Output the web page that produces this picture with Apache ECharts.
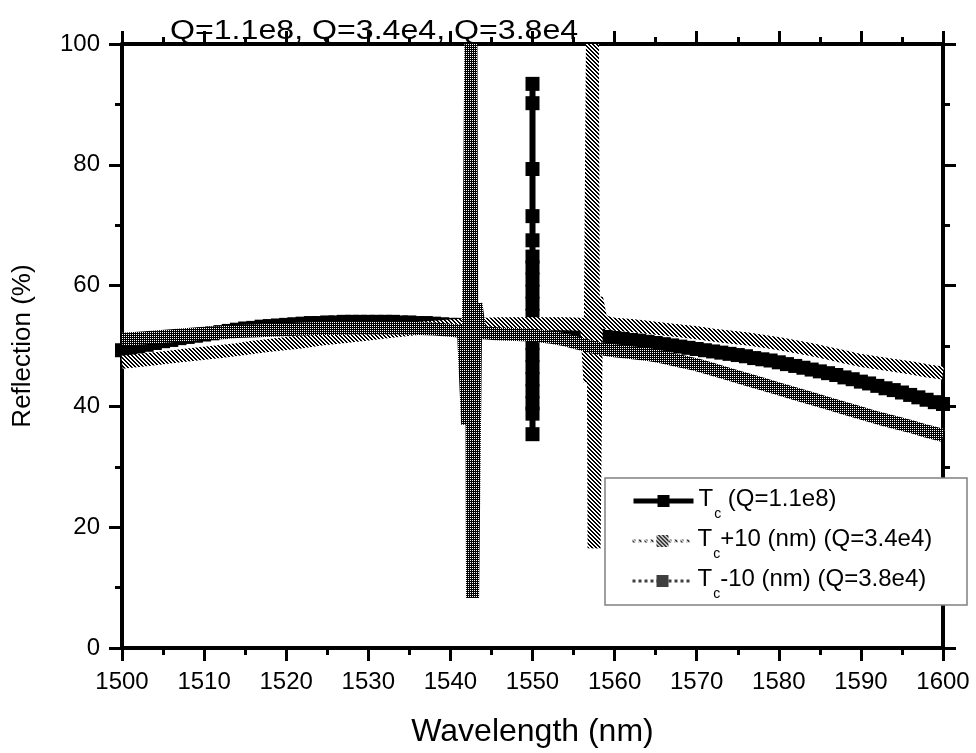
<!DOCTYPE html>
<html>
<head>
<meta charset="utf-8">
<script src="https://cdn.jsdelivr.net/npm/echarts@6/dist/echarts.min.js"></script>
<style>
html,body{margin:0;padding:0;background:#fff;}
#chart{width:976px;height:753px;}
</style>
</head>
<body>
<div id="chart"></div>
<script>
// ---------- DATA ----------
var titleText = 'Q=1.1e8, Q=3.4e4, Q=3.8e4';
var xAxisName = 'Wavelength (nm)';
var yAxisName = 'Reflection (%)';
var seriesNames = ['Tc (Q=1.1e8)', 'Tc+10 (nm) (Q=3.4e4)', 'Tc-10 (nm) (Q=3.8e4)'];
var legendRest = [' (Q=1.1e8)', '+10 (nm) (Q=3.4e4)', '-10 (nm) (Q=3.8e4)'];

// Tc : 1 nm sampling, 1500..1549
var tcLeftStart = 1500;
var tcLeftY = [49.3,49.6,49.9,50.2,50.5,50.8,51.0,51.3,51.5,51.7,
  51.9,52.1,52.3,52.5,52.7,52.9,53.0,53.2,53.3,53.4,
  53.5,53.6,53.7,53.8,53.8,53.9,53.9,54.0,54.0,54.0,
  54.0,54.0,54.0,54.0,53.9,53.9,53.8,53.8,53.7,53.6,
  53.5,53.5,53.4,53.3,53.2,53.1,53.0,52.9,52.9,52.8];
// Tc resonance at 1550 nm
var tcResX = 1550;
var tcResY = [52.7,55,57,59,61,63,64.8,67.5,71.5,79.3,90.2,93.4,35.4,38.8,40.5,42.5,44.5,46.5,48.5,50.5,52.6];
// Tc : 1551..1600
var tcRightStart = 1551;
var tcRightY = [52.6,52.5,52.4,52.2,52.1,52.0,51.8,51.7,51.5,51.4,
  51.2,51.0,50.9,50.7,50.5,50.3,50.1,49.9,49.7,49.5,
  49.3,49.1,48.9,48.7,48.5,48.3,48.0,47.8,47.6,47.3,
  47.0,46.7,46.4,46.1,45.8,45.5,45.2,44.8,44.5,44.1,
  43.8,43.4,43.0,42.7,42.3,41.9,41.5,41.1,40.7,40.4];

// Tc+10
var plusX = [1500,1502,1504,1506,1508,1510,1512,1514,1516,1518,1520,1522,1524,1526,1528,1530,1532,1534,1536,1538,1540,1542,1544,1546,1548,1550,1552,1554,1556,
  1556.6,1557.0,1557.3,1557.5,1557.8,1558.3,1559,
  1560,1562,1564,1566,1568,1570,1572,1574,1576,1578,1580,1582,1584,1586,1588,1590,1592,1594,1596,1598,1600];
var plusY = [47.3,47.6,47.9,48.2,48.5,48.8,49.1,49.4,49.8,50.1,50.4,50.7,51.1,51.4,51.7,52.0,52.3,52.6,52.9,53.1,53.3,53.5,53.6,53.7,53.7,53.7,53.7,53.7,53.6,
  53.3,44,100,16.5,58,54.5,53.9,
  53.6,53.4,53.1,52.8,52.5,52.2,51.8,51.5,51.2,50.8,50.4,49.9,49.4,48.8,48.2,47.6,47.2,46.8,46.4,45.9,45.5];

// Tc-10
var minusX = [1500,1502,1504,1506,1508,1510,1512,1514,1516,1518,1520,1522,1524,1526,1528,1530,1532,1534,1536,1538,1540,
  1541.6,1542.1,1542.5,1542.7,1543.1,1543.6,
  1544,1546,1548,1550,1552,1554,1556,1558,1560,1562,1564,1566,1568,1570,1572,1574,1576,1578,1580,1582,1584,1586,1588,1590,1592,1594,1596,1598,1600];
var minusY = [51.1,51.3,51.5,51.7,51.9,52.1,52.2,52.4,52.5,52.6,52.7,52.8,52.9,52.9,53.0,53.0,53.0,53.0,52.9,52.8,52.6,
  52.4,37,100,8.3,57,52.4,
  52.2,52.0,51.9,51.8,51.5,51.0,50.3,49.6,49.2,48.9,48.6,48.1,47.5,46.9,46.1,45.3,44.5,43.7,42.9,42.1,41.3,40.5,39.7,38.9,38.1,37.4,36.7,35.9,35.2];

var xMin = 1500, xMax = 1600, xInterval = 10;
var yMin = 0, yMax = 100, yInterval = 20;

// ---------- BUILD ----------
function pairsFromStart(start, ys) { return ys.map(function (v, i) { return [start + i, v]; }); }
function pairs(xs, ys) { return xs.map(function (x, i) { return [x, ys[i]]; }); }
var tcData = pairsFromStart(tcLeftStart, tcLeftY)
  .concat(tcResY.map(function (v) { return [tcResX, v]; }))
  .concat(pairsFromStart(tcRightStart, tcRightY));
var plusData = pairs(plusX, plusY);
var minusData = pairs(minusX, minusY);

function makePattern(kind) {
  var c = document.createElement('canvas');
  c.width = 4; c.height = 4;
  var ctx = c.getContext('2d');
  ctx.fillStyle = '#fff'; ctx.fillRect(0, 0, 4, 4);
  ctx.fillStyle = '#000';
  for (var y = 0; y < 4; y++) for (var x = 0; x < 4; x++) {
    var black;
    if (kind === 'hatch') black = ((x - y + 8) % 4) < 2;
    else black = !(x % 2 === 0 && y % 2 === 0);
    if (black) ctx.fillRect(x, y, 1, 1);
  }
  return { image: c, repeat: 'repeat' };
}
var hatch = makePattern('hatch');
var check = makePattern('check');

var FONT = '"Liberation Sans", Arial, Helvetica, sans-serif';
var axisCommon = {
  axisLine: { show: true, onZero: false, lineStyle: { color: '#000', width: 4 } },
  axisTick: { show: true, inside: false, length: 13, lineStyle: { color: '#000', width: 3 } },
  minorTick: { show: true, splitNumber: 2, length: 7, lineStyle: { color: '#000', width: 3 } },
  splitLine: { show: false },
  minorSplitLine: { show: false }
};
function ax(extra) { return Object.assign({}, JSON.parse(JSON.stringify(axisCommon)), extra); }
function plain(v) { return String(v); }

var richStyle = {
  t: { fontSize: 24, lineHeight: 28, fontFamily: FONT, color: '#000', verticalAlign: 'top' },
  s: { fontSize: 14, lineHeight: 14, fontFamily: FONT, color: '#000', padding: [20, 0, 0, 1], verticalAlign: 'top' }
};
function legendFor(i, top, extra) {
  return Object.assign({
    data: [seriesNames[i]],
    left: 631, top: top,
    orient: 'vertical',
    itemWidth: 60, itemHeight: 15,
    padding: 0,
    selectedMode: false,
    z: 60,
    formatter: function () { return '{t|T}{s|c}{t|' + legendRest[i] + '}'; },
    textStyle: { rich: richStyle }
  }, extra);
}

var chart = echarts.init(document.getElementById('chart'), null, { renderer: 'canvas' });
chart.setOption({
  animation: false,
  backgroundColor: '#fff',
  textStyle: { fontFamily: FONT },
  grid: { left: 122, right: 33, top: 44, bottom: 103, containLabel: false },
  xAxis: [
    ax({ type: 'value', position: 'bottom', min: xMin, max: xMax, interval: xInterval,
      axisLabel: { fontSize: 24, color: '#000', margin: 22, fontFamily: FONT, formatter: plain },
      name: xAxisName, nameLocation: 'middle', nameGap: 68,
      nameTextStyle: { fontSize: 32, color: '#000', fontFamily: FONT } }),
    ax({ type: 'value', position: 'top', min: xMin, max: xMax, interval: xInterval,
      axisLabel: { show: false } })
  ],
  yAxis: [
    ax({ type: 'value', position: 'left', min: yMin, max: yMax, interval: yInterval,
      axisLabel: { fontSize: 24, color: '#000', margin: 22, fontFamily: FONT, formatter: plain },
      name: yAxisName, nameLocation: 'middle', nameGap: 86,
      nameTextStyle: { fontSize: 26, color: '#000', fontFamily: FONT } }),
    ax({ type: 'value', position: 'right', min: yMin, max: yMax, interval: yInterval,
      axisLabel: { show: false } })
  ],
  legend: [
    legendFor(0, 487, { lineStyle: { width: 5, color: '#000' } }),
    legendFor(1, 527, { lineStyle: { width: 3, type: 'dotted' } }),
    legendFor(2, 567, { lineStyle: { width: 3, type: 'dotted' } })
  ],
  graphic: [
    { type: 'rect', z: 50, shape: { x: 605, y: 478, width: 362, height: 127 },
      style: { fill: '#fff', stroke: '#808080', lineWidth: 1.5 } },
    { type: 'text', z: 50, x: 170, y: 32, scaleX: 1.19,
      style: { text: titleText, font: '27px ' + FONT, fill: '#000',
        textAlign: 'left', textVerticalAlign: 'middle', align: 'left', verticalAlign: 'middle' } }
  ],
  series: [
    { name: seriesNames[0], type: 'line', data: tcData, z: 2,
      symbol: 'rect', symbolSize: 14, showSymbol: true,
      lineStyle: { color: '#000', width: 6 },
      itemStyle: { color: '#000' } },
    { name: seriesNames[1], type: 'line', data: plusData, z: 3,
      symbol: 'rect', symbolSize: 10, showSymbol: false,
      lineStyle: { color: hatch, width: 13 },
      itemStyle: { color: hatch } },
    { name: seriesNames[2], type: 'line', data: minusData, z: 4,
      symbol: 'rect', symbolSize: 10, showSymbol: false,
      lineStyle: { color: check, width: 13 },
      itemStyle: { color: check } }
  ]
});
</script>
</body>
</html>
